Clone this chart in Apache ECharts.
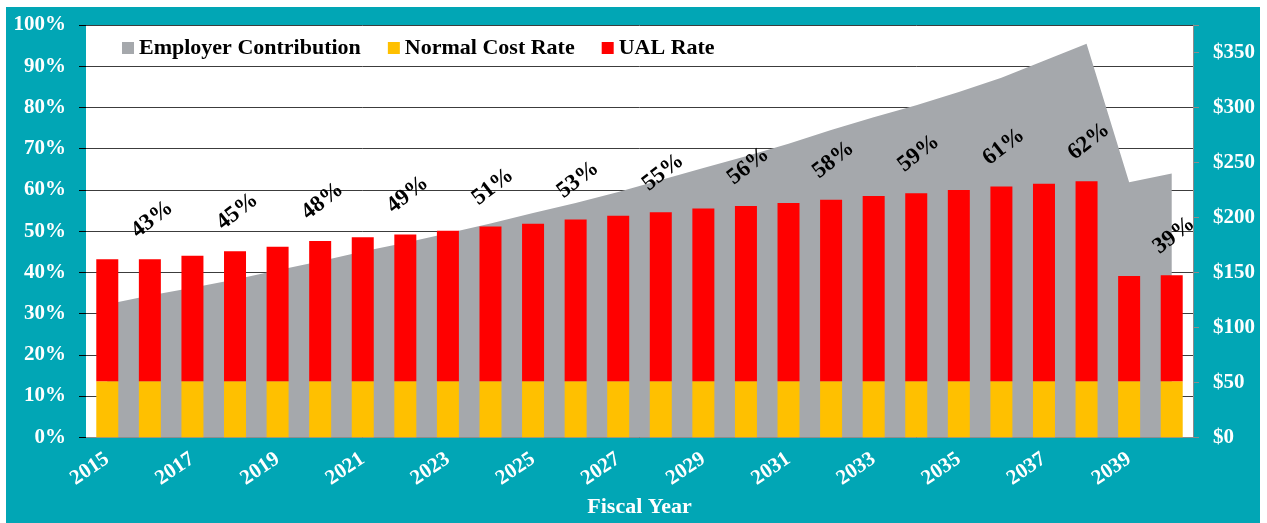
<!DOCTYPE html>
<html>
<head>
<meta charset="utf-8">
<script src="https://cdn.jsdelivr.net/npm/echarts@6/dist/echarts.min.js"></script>
<style>
    html, body { margin: 0; padding: 0; background: #fff; }
    #main { position: absolute; left: 6px; top: 7px; width: 1254px; height: 516px; }
</style>
</head>
<body>
<div id="main"></div>
<script>
// fiscal years
var years = ['2015', '2016', '2017', '2018', '2019', '2020', '2021', '2022', '2023', '2024', '2025', '2026', '2027',
    '2028', '2029', '2030', '2031', '2032', '2033', '2034', '2035', '2036', '2037', '2038', '2039', '2040'];
// total contribution rate (% of pay)
var totalRate = [43.2, 43.2, 44.0, 45.1, 46.2, 47.6, 48.5, 49.2, 50.1, 51.1, 51.8, 52.8, 53.7,
    54.6, 55.5, 56.1, 56.8, 57.6, 58.5, 59.2, 60.0, 60.8, 61.5, 62.1, 39.1, 39.3];
// normal cost rate (% of pay)
var normalCost = [13.6, 13.6, 13.6, 13.6, 13.6, 13.6, 13.6, 13.6, 13.6, 13.6, 13.6, 13.6, 13.6,
    13.6, 13.6, 13.6, 13.6, 13.6, 13.6, 13.6, 13.6, 13.6, 13.6, 13.6, 13.6, 13.6];
// employer contribution ($ millions)
var employerContribution = [121, 129, 136, 143.5, 152, 160, 169, 177, 185.5, 194.5, 204, 213, 223,
    234, 245, 255.5, 267, 279.5, 291, 302, 314, 327, 342.5, 358, 232, 240];
// years that carry a rate label
var labelYears = ['2016', '2018', '2020', '2022', '2024', '2026', '2028', '2030', '2032', '2034', '2036', '2038', '2040'];

var ualRate = totalRate.map(function(v, i) {
    return +(v - normalCost[i]).toFixed(1);
});

var serif = 'Liberation Serif';
var myChart = echarts.init(document.getElementById('main'));
var option = {
    backgroundColor: '#01A6B5',
    animation: false,
    textStyle: { fontFamily: serif },
    grid: {
        left: 80,
        right: 67,
        top: 18,
        bottom: 81,
        show: true,
        backgroundColor: '#fff',
        borderWidth: 0
    },
    legend: {
        left: 111,
        top: 25,
        itemWidth: 12,
        itemHeight: 12,
        itemGap: 27,
        icon: 'rect',
        textStyle: { fontFamily: serif, fontWeight: 'bold', fontSize: 22, color: '#000' },
        data: ['Employer Contribution', 'Normal Cost Rate', 'UAL Rate']
    },
    xAxis: {
        type: 'category',
        data: years,
        name: 'Fiscal Year',
        nameLocation: 'middle',
        nameGap: 58,
        nameTextStyle: { color: '#fff', fontWeight: 'bold', fontSize: 22, fontFamily: serif },
        axisLine: { lineStyle: { color: '#8c8c8c' } },
        axisTick: { interval: 0, length: 7, lineStyle: { color: '#8c8c8c' } },
        axisLabel: {
            interval: 1,
            rotate: 34,
            margin: 20,
            color: '#fff',
            fontWeight: 'bold',
            fontSize: 21,
            fontFamily: serif
        }
    },
    yAxis: [{
        type: 'value',
        min: 0,
        max: 100,
        interval: 10,
        axisLine: { show: false },
        axisTick: { show: true, length: 7, lineStyle: { color: '#000' } },
        axisLabel: {
            formatter: '{value}%',
            margin: 20,
            color: '#fff',
            fontWeight: 'bold',
            fontSize: 21,
            fontFamily: serif
        },
        splitLine: { lineStyle: { color: '#3c3c3c', width: 1 } }
    }, {
        type: 'value',
        min: 0,
        max: 375,
        interval: 50,
        position: 'right',
        axisLine: { show: true, lineStyle: { color: '#8c8c8c' } },
        axisTick: { show: true, length: 6, lineStyle: { color: '#8c8c8c' } },
        axisLabel: {
            formatter: function(value) {
                return value > 350 ? '' : '$' + value;
            },
            margin: 20,
            color: '#fff',
            fontWeight: 'bold',
            fontSize: 21,
            fontFamily: serif
        },
        splitLine: { show: false }
    }],
    series: [{
        name: 'Employer Contribution',
        type: 'line',
        yAxisIndex: 1,
        data: employerContribution,
        symbol: 'none',
        lineStyle: { width: 0 },
        itemStyle: { color: '#A5A8AC' },
        areaStyle: { color: '#A5A8AC', opacity: 1 },
        z: 1
    }, {
        name: 'Normal Cost Rate',
        type: 'bar',
        stack: 'rate',
        data: normalCost,
        barWidth: 22,
        itemStyle: { color: '#FFC000' },
        z: 2
    }, {
        name: 'UAL Rate',
        type: 'bar',
        stack: 'rate',
        data: ualRate,
        barWidth: 22,
        itemStyle: { color: '#FF0000' },
        z: 2,
        label: {
            show: true,
            position: 'top',
            distance: 38,
            rotate: 38,
            offset: [3, 0],
            align: 'center',
            verticalAlign: 'middle',
            color: '#000',
            fontWeight: 'bold',
            fontSize: 23,
            fontFamily: serif,
            formatter: function(params) {
                if (labelYears.indexOf(params.name) < 0) {
                    return '';
                }
                return Math.round(totalRate[params.dataIndex]) + '%';
            }
        }
    }]
};
myChart.setOption(option);
</script>
</body>
</html>
